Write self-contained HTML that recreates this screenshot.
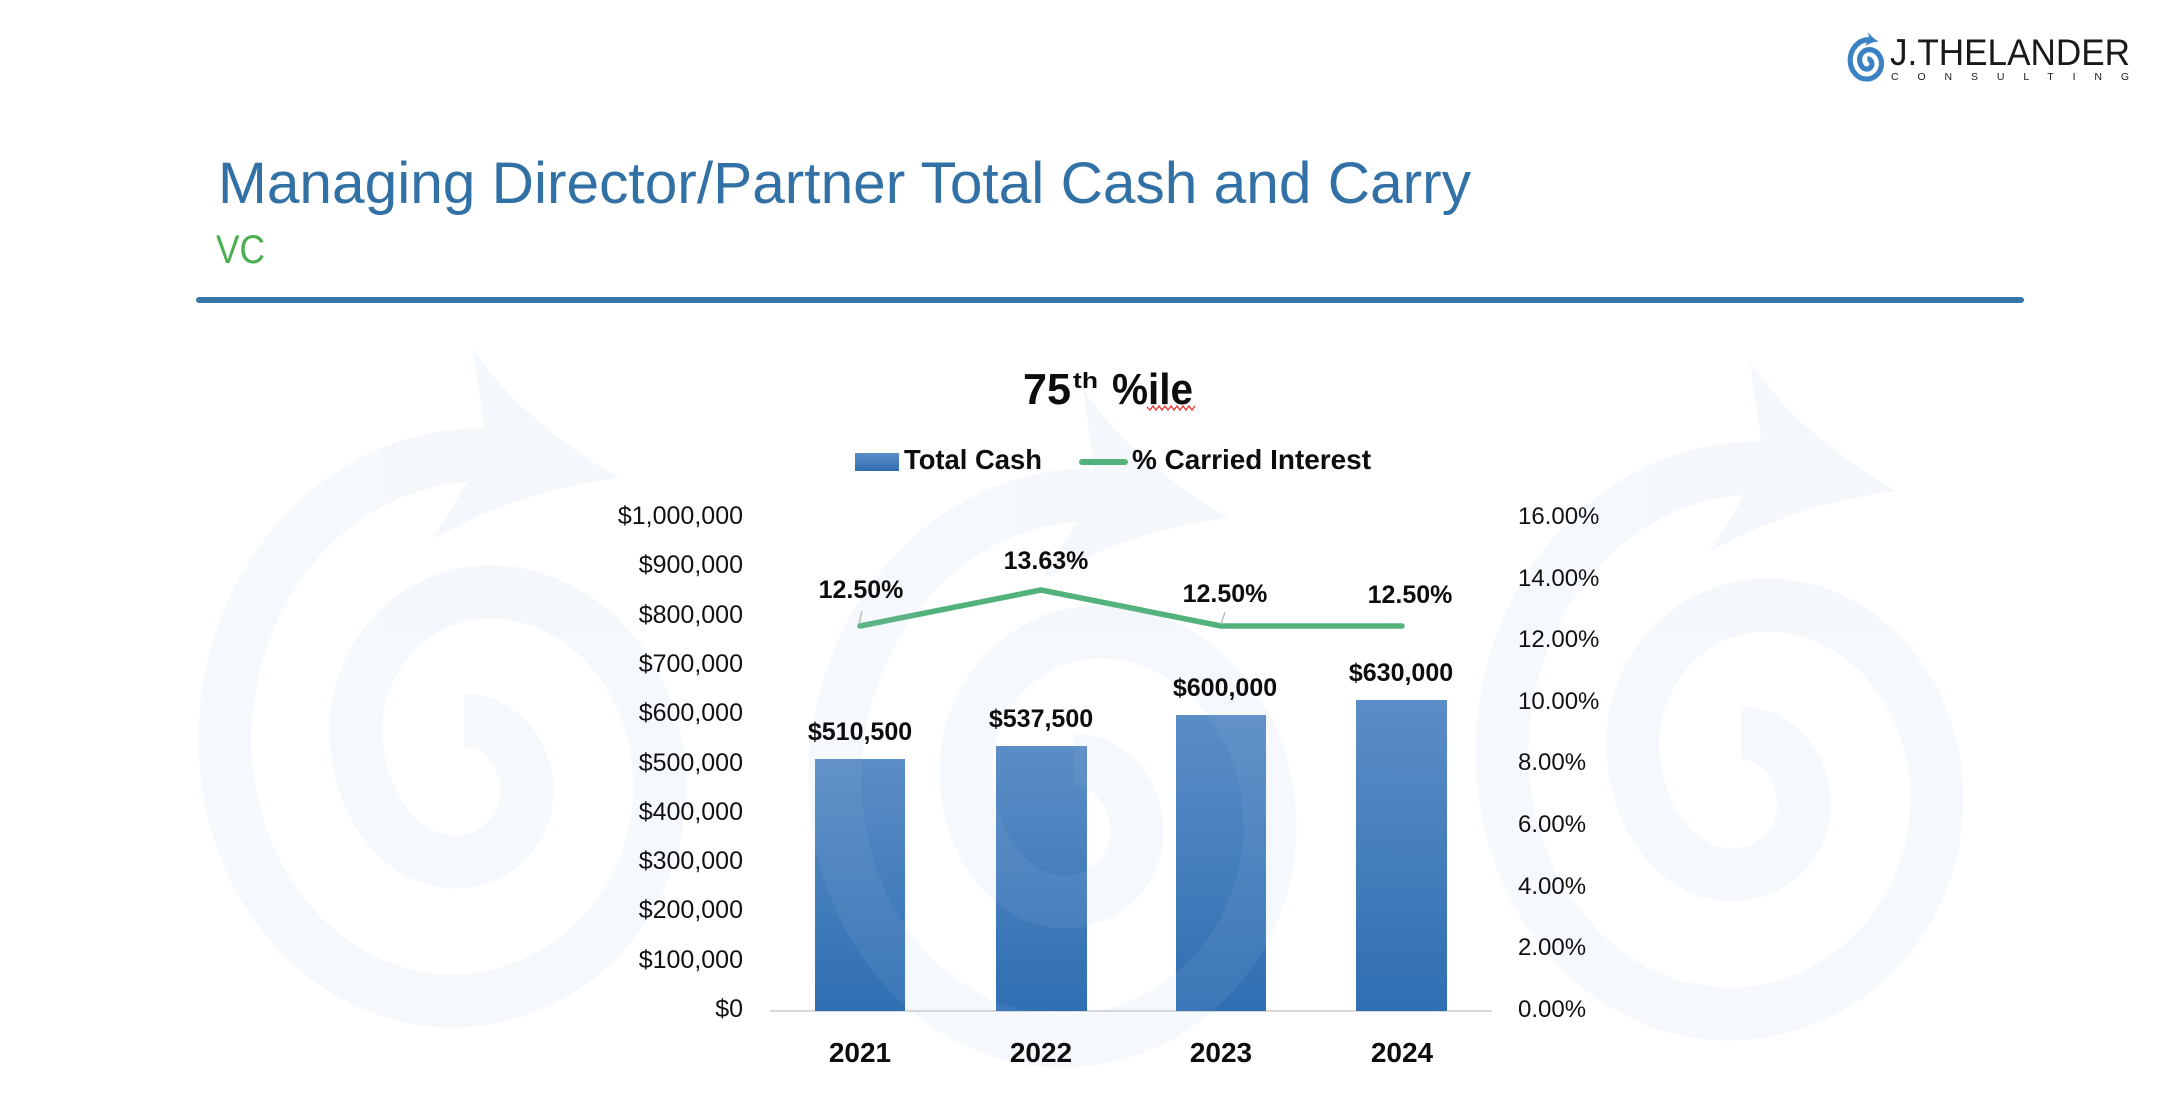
<!DOCTYPE html>
<html>
<head>
<meta charset="utf-8">
<style>
  html,body{margin:0;padding:0;background:#ffffff;}
  svg{display:block;}
  text{font-family:"Liberation Sans", Arial, sans-serif;}
</style>
</head>
<body>
<svg width="2176" height="1100" viewBox="0 0 2176 1100" xmlns="http://www.w3.org/2000/svg">
  <defs>
    <g id="sp">
      <path d="M464 720 A63 72 0 0 1 527 792 A72 70 0 0 1 455 862 A99 132 0 0 1 356 730 A134 138 0 0 1 490 592 A170 194 0 0 1 660 786 A208 215 0 0 1 452 1001 A227 261 0 0 1 225 740 A255 285 0 0 1 482 455" fill="none" stroke="currentColor"/>
      <path d="M484 426 L473 349 Q520 420 619 478 Q520 490 433 539 L467 483 Z" fill="currentColor"/>
    </g>
    <linearGradient id="bar" x1="0" y1="0" x2="0" y2="1">
      <stop offset="0" stop-color="#5b8dc6"/>
      <stop offset="1" stop-color="#2f6fb2"/>
    </linearGradient>
  </defs>

  <rect x="0" y="0" width="2176" height="1100" fill="#ffffff"/>

  <!-- background spirals (left and right) -->
  <use href="#sp" style="color:#a0bde0" stroke-width="53" opacity="0.11"/>
  <use href="#sp" transform="translate(1277,13)" style="color:#a0bde0" stroke-width="53" opacity="0.11"/>

  <!-- logo -->
  <use href="#sp" transform="translate(1834,7) scale(0.072)" style="color:#3b82c4" stroke-width="72"/>
  <text x="1890" y="65" font-size="37" fill="#1a1a1a" textLength="240" lengthAdjust="spacingAndGlyphs">J.THELANDER</text>
  <text x="1891" y="80" font-size="10.5" fill="#1a1a1a" textLength="238" lengthAdjust="spacing">CONSULTING</text>

  <!-- header -->
  <text x="218" y="203" font-size="58" fill="#3271a5" textLength="1253" lengthAdjust="spacingAndGlyphs">Managing Director/Partner Total Cash and Carry</text>
  <text x="216" y="263" font-size="40" fill="#4caf50" textLength="49" lengthAdjust="spacingAndGlyphs">VC</text>
  <line x1="199" y1="300" x2="2021" y2="300" stroke="#3a77a9" stroke-width="6" stroke-linecap="round"/>

  <!-- axis line -->
  <line x1="770" y1="1011" x2="1492" y2="1011" stroke="#d9d9d9" stroke-width="2"/>

  <!-- bars -->
  <rect x="815" y="759" width="90" height="252" fill="url(#bar)"/>
  <rect x="996" y="746" width="91" height="265" fill="url(#bar)"/>
  <rect x="1176" y="715" width="90" height="296" fill="url(#bar)"/>
  <rect x="1356" y="700" width="91" height="311" fill="url(#bar)"/>

  <!-- line -->
  <polyline points="860,626 1041,590 1221,626 1402,626" fill="none" stroke="#52b27b" stroke-width="5.5" stroke-linejoin="round" stroke-linecap="round"/>

  <!-- middle spiral overlay -->
  <use href="#sp" transform="translate(610,40)" style="color:#a0bde0" stroke-width="53" opacity="0.11"/>

  <!-- leader lines -->
  <line x1="862" y1="611" x2="859" y2="624" stroke="#bfbfbf" stroke-width="1.5"/>
  <line x1="1225" y1="612" x2="1221" y2="624" stroke="#bfbfbf" stroke-width="1.5"/>

  <!-- chart title -->
  <text x="1023" y="404" font-size="44" font-weight="bold" fill="#0d0d0d" textLength="48" lengthAdjust="spacingAndGlyphs">75</text>
  <text x="1073" y="388" font-size="22" font-weight="bold" fill="#0d0d0d" textLength="25" lengthAdjust="spacingAndGlyphs">th</text>
  <text x="1112" y="404" font-size="44" font-weight="bold" fill="#0d0d0d" textLength="81" lengthAdjust="spacingAndGlyphs">%ile</text>
  <polyline points="1147,407 1150,410 1153,406 1156,410 1159,406 1162,410 1165,406 1168,410 1171,406 1174,410 1177,406 1180,410 1183,406 1186,410 1189,406 1192,410 1195,406" fill="none" stroke="#e53935" stroke-width="1.3"/>

  <!-- legend -->
  <rect x="855" y="453" width="44" height="18" fill="url(#bar)"/>
  <text x="904" y="469" font-size="28" font-weight="bold" fill="#0d0d0d" textLength="138" lengthAdjust="spacingAndGlyphs">Total Cash</text>
  <line x1="1082" y1="462" x2="1125" y2="462" stroke="#52b27b" stroke-width="6" stroke-linecap="round"/>
  <text x="1132" y="469" font-size="28" font-weight="bold" fill="#0d0d0d" textLength="239" lengthAdjust="spacingAndGlyphs">% Carried Interest</text>

  <!-- left axis labels -->
  <g font-size="25" fill="#111111" text-anchor="end">
    <text x="743" y="524">$1,000,000</text>
    <text x="743" y="573">$900,000</text>
    <text x="743" y="623">$800,000</text>
    <text x="743" y="672">$700,000</text>
    <text x="743" y="721">$600,000</text>
    <text x="743" y="771">$500,000</text>
    <text x="743" y="820">$400,000</text>
    <text x="743" y="869">$300,000</text>
    <text x="743" y="918">$200,000</text>
    <text x="743" y="968">$100,000</text>
    <text x="743" y="1017">$0</text>
  </g>

  <!-- right axis labels -->
  <g font-size="24" fill="#111111">
    <text x="1518" y="524">16.00%</text>
    <text x="1518" y="586">14.00%</text>
    <text x="1518" y="647">12.00%</text>
    <text x="1518" y="709">10.00%</text>
    <text x="1518" y="770">8.00%</text>
    <text x="1518" y="832">6.00%</text>
    <text x="1518" y="894">4.00%</text>
    <text x="1518" y="955">2.00%</text>
    <text x="1518" y="1017">0.00%</text>
  </g>

  <!-- data labels -->
  <g font-size="25" font-weight="bold" fill="#0d0d0d" text-anchor="middle">
    <text x="860" y="740">$510,500</text>
    <text x="1041" y="727">$537,500</text>
    <text x="1225" y="696">$600,000</text>
    <text x="1401" y="681">$630,000</text>
    <text x="861" y="598">12.50%</text>
    <text x="1046" y="569">13.63%</text>
    <text x="1225" y="602">12.50%</text>
    <text x="1410" y="603">12.50%</text>
  </g>

  <!-- category labels -->
  <g font-size="28" font-weight="bold" fill="#0d0d0d" text-anchor="middle">
    <text x="860" y="1062">2021</text>
    <text x="1041" y="1062">2022</text>
    <text x="1221" y="1062">2023</text>
    <text x="1402" y="1062">2024</text>
  </g>
</svg>
</body>
</html>
